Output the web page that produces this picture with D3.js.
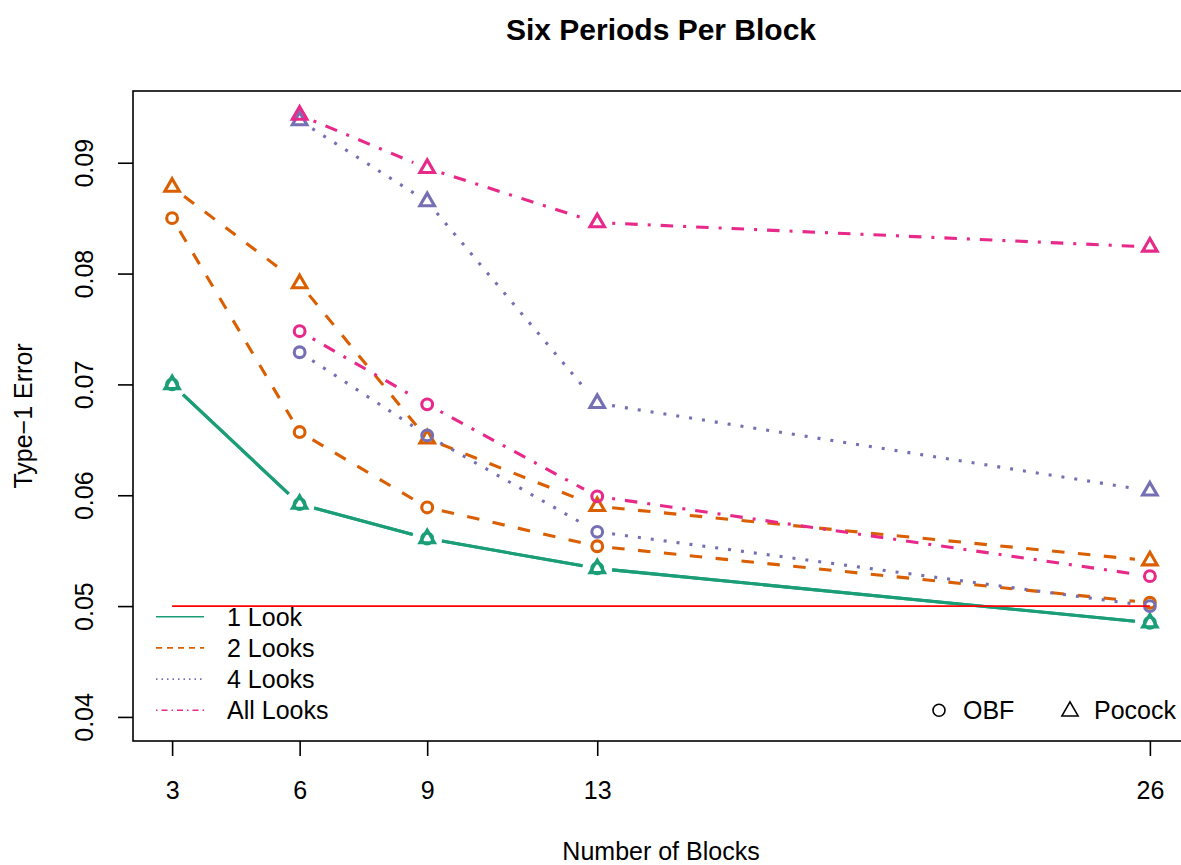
<!DOCTYPE html>
<html>
<head>
<meta charset="utf-8">
<script src="https://cdn.jsdelivr.net/npm/d3@7"></script>
<style>
  body { margin: 0; background: #ffffff; }
  svg text { font-family: "Liberation Sans", Arial, Helvetica, sans-serif; fill: #000; }
</style>
</head>
<body>
<svg id="chart" width="1181" height="865"></svg>
<script>
// Number of blocks on the x axis
const blocks = [3, 6, 9, 13, 26];

// Type-1 error per design (null where the design was not run)
const oneLookOBF      = [0.0700, 0.0592, 0.0561, 0.0534, 0.0485];
const oneLookPocock   = [0.0700, 0.0592, 0.0561, 0.0534, 0.0485];
const twoLooksOBF     = [0.0850, 0.0657, 0.0589, 0.0554, 0.0503];
const twoLooksPocock  = [0.0878, 0.0791, 0.0651, 0.0590, 0.0541];
const fourLooksOBF    = [null, 0.0729, 0.0654, 0.0567, 0.0500];
const fourLooksPocock = [null, 0.0938, 0.0865, 0.0683, 0.0604];
const allLooksOBF     = [null, 0.0748, 0.0682, 0.0599, 0.0527];
const allLooksPocock  = [null, 0.0943, 0.0895, 0.0846, 0.0824];

const lookLabels = ["1 Look", "2 Looks", "4 Looks", "All Looks"];
const designLabels = ["OBF", "Pocock"];
const yTicks = [0.04, 0.05, 0.06, 0.07, 0.08, 0.09];
const nominalAlpha = 0.05;

const lookColors = ["#1B9E77", "#D95F02", "#7570B3", "#E7298A"];
const dataDash   = [null, "12.5 13.5", "3 10", "3 10 12.5 10"];
const legendDash = [null, "6 5", "1.5 4", "1.5 4 6 4"];

const series = [
  { look: 0, design: 0, values: oneLookOBF },
  { look: 0, design: 1, values: oneLookPocock },
  { look: 1, design: 0, values: twoLooksOBF },
  { look: 1, design: 1, values: twoLooksPocock },
  { look: 2, design: 0, values: fourLooksOBF },
  { look: 2, design: 1, values: fourLooksPocock },
  { look: 3, design: 0, values: allLooksOBF },
  { look: 3, design: 1, values: allLooksPocock }
];

// plot region (right border runs just past the canvas)
const plot = { left: 133, right: 1189, top: 91, bottom: 741 };

const pad4 = ([a, b]) => { const d = (b - a) * 0.04; return [a - d, b + d]; };
const allVals = series.flatMap(s => s.values).filter(v => v != null);

const x = d3.scaleLinear().domain(pad4(d3.extent(blocks))).range([plot.left, plot.right]);
const y = d3.scaleLinear().domain(pad4([0.04, d3.max(allVals)])).range([plot.bottom, plot.top]);

const svg = d3.select("#chart");
svg.append("rect").attr("width", 1181).attr("height", 865).attr("fill", "#fff");

// title
svg.append("text")
  .attr("x", (plot.left + plot.right) / 2).attr("y", 40)
  .attr("text-anchor", "middle")
  .style("font-size", "30px").style("font-weight", "bold")
  .text("Six Periods Per Block");

// x axis
const xAxis = svg.append("g").attr("transform", `translate(0,${plot.bottom})`)
  .call(d3.axisBottom(x).tickValues(blocks).tickFormat(d3.format("d")).tickSize(15).tickPadding(0));
xAxis.select(".domain").remove();
xAxis.selectAll(".tick line").attr("stroke", "#000").attr("stroke-width", 1.6);
xAxis.selectAll(".tick text").attr("y", 58).attr("dy", null)
  .style("font-size", "25px").style("font-family", "'Liberation Sans', Arial, sans-serif");

// y axis
const yAxis = svg.append("g").attr("transform", `translate(${plot.left},0)`)
  .call(d3.axisLeft(y).tickValues(yTicks).tickFormat(d3.format(".2f")).tickSize(15).tickPadding(0));
yAxis.select(".domain").remove();
yAxis.selectAll(".tick line").attr("stroke", "#000").attr("stroke-width", 1.6);
yAxis.selectAll(".tick text")
  .attr("x", null).attr("dy", null)
  .attr("text-anchor", "middle")
  .attr("transform", "translate(-40,0) rotate(-90)")
  .style("font-size", "25px").style("font-family", "'Liberation Sans', Arial, sans-serif");

// axis titles
svg.append("text")
  .attr("x", (plot.left + plot.right) / 2).attr("y", 860)
  .attr("text-anchor", "middle").style("font-size", "25px")
  .text("Number of Blocks");
svg.append("text")
  .attr("transform", `translate(32,${(plot.top + plot.bottom) / 2}) rotate(-90)`)
  .attr("text-anchor", "middle").style("font-size", "25px")
  .text("Type\u22121 Error");

// frame
svg.append("rect")
  .attr("x", plot.left).attr("y", plot.top)
  .attr("width", plot.right - plot.left).attr("height", plot.bottom - plot.top)
  .attr("fill", "none").attr("stroke", "#000").attr("stroke-width", 1.6);

// marker shapes
const circleR = 5.4;
function trianglePath(xc) {
  const top = 1.5551 * xc, half = 1.3468 * xc, base = 0.7776 * xc;
  return `M0,${-top}L${half},${base}L${-half},${base}Z`;
}

const gap = 15;
const gData = svg.append("g");
series.forEach(s => {
  const color = lookColors[s.look];
  const pts = blocks.map((b, i) => s.values[i] == null ? null : [x(b), y(s.values[i])]);
  // line pieces between points, leaving room around each marker
  for (let i = 0; i < pts.length - 1; i++) {
    const p0 = pts[i], p1 = pts[i + 1];
    if (!p0 || !p1) continue;
    const dx = p1[0] - p0[0], dy = p1[1] - p0[1];
    const len = Math.hypot(dx, dy);
    if (len <= 2 * gap) continue;
    const ux = dx / len, uy = dy / len;
    gData.append("line")
      .attr("x1", p0[0] + ux * gap).attr("y1", p0[1] + uy * gap)
      .attr("x2", p1[0] - ux * gap).attr("y2", p1[1] - uy * gap)
      .attr("stroke", color).attr("stroke-width", 3.1)
      .attr("stroke-dasharray", dataDash[s.look]);
  }
  const valid = pts.filter(p => p);
  if (s.design === 0) {
    gData.selectAll(null).data(valid).enter().append("circle")
      .attr("cx", d => d[0]).attr("cy", d => d[1]).attr("r", circleR)
      .attr("fill", "none").attr("stroke", color).attr("stroke-width", 3.1);
  } else {
    gData.selectAll(null).data(valid).enter().append("path")
      .attr("d", trianglePath(circleR))
      .attr("transform", d => `translate(${d[0]},${d[1]})`)
      .attr("fill", "none").attr("stroke", color).attr("stroke-width", 3.1);
  }
});

// nominal level
svg.append("line")
  .attr("x1", x(blocks[0])).attr("x2", x(blocks[blocks.length - 1]))
  .attr("y1", y(nominalAlpha)).attr("y2", y(nominalAlpha))
  .attr("stroke", "#FF0000").attr("stroke-width", 1.6);

// legend: number of looks
const legL = svg.append("g");
lookLabels.forEach((lab, i) => {
  const base = 625.7 + i * 31.2;
  legL.append("line")
    .attr("x1", 156).attr("x2", 204).attr("y1", base - 9).attr("y2", base - 9)
    .attr("stroke", lookColors[i]).attr("stroke-width", 1.6)
    .attr("stroke-dasharray", legendDash[i]);
  legL.append("text").attr("x", 227).attr("y", base)
    .style("font-size", "25px").text(lab);
});

// legend: design
const legR = svg.append("g");
const legBase = 719.3;
legR.append("circle").attr("cx", 939).attr("cy", legBase - 9).attr("r", 6)
  .attr("fill", "none").attr("stroke", "#000").attr("stroke-width", 1.6);
legR.append("text").attr("x", 963).attr("y", legBase).style("font-size", "25px").text(designLabels[0]);
legR.append("path").attr("d", trianglePath(6))
  .attr("transform", `translate(1070,${legBase - 8})`)
  .attr("fill", "none").attr("stroke", "#000").attr("stroke-width", 1.6);
legR.append("text").attr("x", 1094).attr("y", legBase).style("font-size", "25px").text(designLabels[1]);
</script>
</body>
</html>
